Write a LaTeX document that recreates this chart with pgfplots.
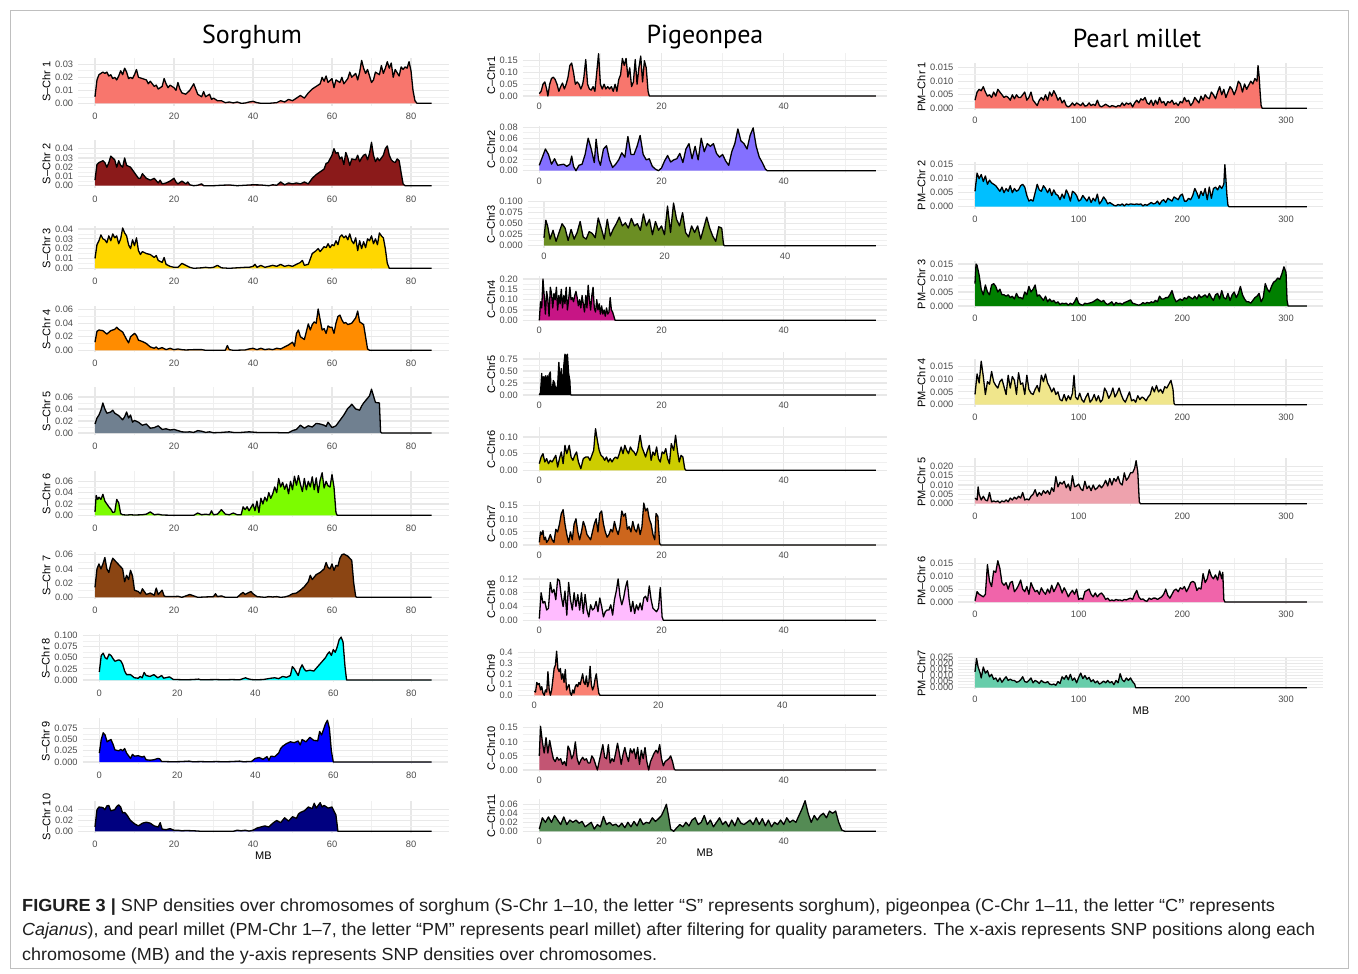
\documentclass[border=0pt]{standalone}
\usepackage{fontspec}
\setmainfont{Liberation Sans}
\newfontfamily\titlefont{PT Sans}
\usepackage{pgfplots}
\usepackage{pgfplotstable}
\usepackage{graphicx}
\pgfplotsset{compat=1.18}

\definecolor{cSa}{HTML}{F8766D}
\definecolor{cSb}{HTML}{8B1A1A}
\definecolor{cSc}{HTML}{FFD700}
\definecolor{cSd}{HTML}{FF8C00}
\definecolor{cSe}{HTML}{708090}
\definecolor{cSf}{HTML}{7CFC00}
\definecolor{cSg}{HTML}{8B4513}
\definecolor{cSh}{HTML}{00FFFF}
\definecolor{cSi}{HTML}{0000FF}
\definecolor{cSj}{HTML}{000080}
\definecolor{cCa}{HTML}{F8766D}
\definecolor{cCb}{HTML}{8470FF}
\definecolor{cCc}{HTML}{6B8E23}
\definecolor{cCd}{HTML}{C71585}
\definecolor{cCe}{HTML}{000000}
\definecolor{cCf}{HTML}{CDCD00}
\definecolor{cCg}{HTML}{CD661D}
\definecolor{cCh}{HTML}{FFBBFF}
\definecolor{cCi}{HTML}{FA8072}
\definecolor{cCj}{HTML}{C35573}
\definecolor{cCk}{HTML}{548B54}
\definecolor{cPa}{HTML}{F8766D}
\definecolor{cPb}{HTML}{00BFFF}
\definecolor{cPc}{HTML}{008000}
\definecolor{cPd}{HTML}{F0E68C}
\definecolor{cPe}{HTML}{EEA2AD}
\definecolor{cPf}{HTML}{F064AA}
\definecolor{cPg}{HTML}{66CDAA}

% ---------------- Sorghum ----------------
\pgfplotstableread[row sep=\\]{x y\\0 0.005\\0.5 0.018\\1 0.022\\2 0.024\\2.5 0.023\\3 0.024\\3.5 0.021\\4 0.022\\4.5 0.019\\5 0.020\\5.5 0.018\\6 0.021\\6.5 0.025\\7 0.022\\7.5 0.027\\8 0.024\\8.5 0.019\\9 0.020\\9.5 0.019\\10 0.022\\10.5 0.026\\11 0.020\\12 0.019\\13 0.018\\13.5 0.015\\14 0.017\\15 0.013\\15.5 0.014\\16 0.011\\17 0.013\\17.5 0.019\\18 0.015\\18.5 0.012\\19 0.014\\20 0.012\\20.5 0.010\\21 0.016\\21.5 0.011\\22 0.008\\23 0.007\\24 0.010\\25 0.015\\25.5 0.011\\26 0.007\\27 0.005\\27.5 0.009\\28 0.005\\29 0.007\\29.5 0.003\\30 0.004\\31 0.002\\32 0.002\\33 0.0005\\34 0.001\\35 0.0003\\36 0.001\\37 0\\38 0.0002\\39 0.001\\40 0.0015\\41 0.0005\\42 0\\44 0\\46 0.0005\\47 0.002\\48 0.001\\49 0.003\\50 0.002\\51 0.004\\52 0.006\\53 0.004\\54 0.008\\55 0.011\\56 0.013\\57 0.015\\57.5 0.020\\58 0.017\\58.5 0.021\\59 0.016\\60 0.019\\60.5 0.012\\61 0.018\\62 0.016\\62.5 0.020\\63 0.015\\64 0.019\\64.5 0.024\\65 0.020\\66 0.023\\66.5 0.018\\67 0.024\\67.5 0.033\\68 0.027\\68.5 0.023\\69 0.026\\70 0.016\\70.5 0.018\\71 0.024\\71.5 0.023\\72 0.022\\72.5 0.029\\73 0.023\\73.5 0.027\\74 0.032\\74.5 0.027\\75 0.031\\75.5 0.020\\76 0.026\\77 0.021\\77.5 0.028\\78 0.026\\78.5 0.028\\79 0.027\\79.5 0.032\\80 0.025\\80.5 0.010\\81 0.002\\81.5 0\\85.2 0\\}\Sa
\pgfplotstableread[row sep=\\]{x y\\0 0.006\\0.5 0.023\\1 0.025\\1.5 0.026\\2 0.027\\2.5 0.025\\3 0.020\\3.5 0.025\\4 0.032\\4.5 0.030\\5 0.028\\5.5 0.020\\6 0.027\\6.5 0.022\\7 0.020\\7.5 0.030\\8 0.022\\9 0.020\\10 0.014\\11 0.008\\11.5 0.008\\12 0.013\\13 0.008\\14 0.006\\15 0.008\\16 0.003\\16.5 0.006\\17 0.002\\18 0.003\\19 0.005\\20 0.008\\20.5 0.004\\21 0.002\\22 0.005\\23 0.002\\23.5 0.004\\24 0.001\\25 0\\26 0.0005\\27 0.002\\27.5 0\\30 0\\32 0.0005\\34 0.0008\\36 0\\38 0.0005\\40 0.001\\42 0.0008\\44 0\\45 0.001\\46 0.0005\\47 0.004\\48 0.001\\49 0.003\\50 0.002\\51 0.003\\52 0.002\\53 0.004\\54 0.002\\55 0.008\\56 0.012\\57 0.015\\58 0.018\\58.5 0.024\\59 0.025\\60 0.033\\60.5 0.040\\61 0.035\\61.5 0.036\\62 0.029\\62.5 0.031\\63 0.023\\63.5 0.036\\64 0.030\\64.5 0.022\\65 0.029\\66 0.028\\66.5 0.033\\67 0.026\\67.5 0.030\\68 0.033\\68.5 0.034\\69 0.028\\69.5 0.035\\70 0.047\\70.5 0.033\\71 0.026\\71.5 0.030\\72 0.027\\73 0.033\\73.5 0.040\\74 0.043\\74.5 0.033\\75 0.028\\75.5 0.026\\76 0.025\\76.5 0.029\\77 0.027\\77.5 0.014\\78 0.002\\78.5 0\\85.2 0\\}\Sb
\pgfplotstableread[row sep=\\]{x y\\0 0.010\\0.5 0.024\\1 0.028\\1.5 0.034\\2 0.030\\2.5 0.029\\3 0.026\\3.5 0.033\\4 0.028\\4.5 0.035\\5 0.031\\5.5 0.033\\6 0.025\\6.5 0.030\\7 0.041\\7.5 0.036\\8 0.033\\8.5 0.024\\9 0.020\\9.5 0.029\\10 0.023\\10.5 0.031\\11 0.018\\11.5 0.014\\12 0.017\\13 0.015\\14 0.014\\15 0.011\\15.5 0.013\\16 0.008\\17 0.006\\17.5 0.011\\18 0.004\\19 0.002\\20 0.001\\21 0.001\\22 0.005\\23 0.003\\24 0.001\\25 0\\27 0.0005\\28 0.001\\29 0.0005\\30 0.001\\31 0.003\\32 0.0005\\34 0\\36 0.0005\\38 0.001\\39 0.001\\40 0.002\\40.5 0.004\\41 0.001\\42 0.003\\43 0.001\\44 0.002\\45 0.003\\46 0.002\\47 0.004\\48 0.002\\49 0.003\\50 0.002\\51 0.004\\52 0.006\\52.5 0.008\\53 0.003\\54 0.004\\55 0.015\\56 0.018\\56.5 0.020\\57 0.017\\58 0.022\\58.5 0.021\\59 0.025\\59.5 0.021\\60 0.024\\60.5 0.023\\61 0.028\\61.5 0.024\\62 0.032\\62.5 0.034\\63 0.031\\63.5 0.033\\64 0.029\\64.5 0.035\\65 0.028\\65.5 0.025\\66 0.031\\66.5 0.018\\67 0.028\\67.5 0.020\\68 0.027\\68.5 0.021\\69 0.030\\69.5 0.028\\70 0.033\\70.5 0.025\\71 0.030\\71.5 0.024\\72 0.036\\72.5 0.033\\73 0.031\\73.5 0.020\\74 0.005\\74.5 0\\85.2 0\\}\Sc
\pgfplotstableread[row sep=\\]{x y\\0 0.012\\0.5 0.028\\1 0.030\\2 0.029\\3 0.024\\4 0.029\\5 0.031\\5.5 0.034\\6 0.031\\7 0.027\\8 0.016\\8.5 0.011\\9 0.020\\10 0.025\\10.5 0.022\\11 0.015\\12 0.013\\13 0.010\\14 0.005\\15 0.003\\15.5 0.005\\16 0.002\\17 0.004\\18 0.001\\19 0.003\\20 0.001\\21 0.002\\22 0.001\\23 0.0005\\25 0.001\\27 0.001\\28 0\\33 0\\33.5 0.007\\34 0.001\\35 0\\38 0.0005\\39 0.002\\40 0.003\\41 0.001\\42 0.003\\43 0.001\\44 0.002\\45 0.001\\46 0.003\\47 0.002\\48 0.005\\49 0.008\\50 0.012\\50.5 0.006\\51 0.025\\51.5 0.030\\52 0.020\\53 0.016\\54 0.039\\54.5 0.030\\55 0.038\\55.5 0.042\\56 0.040\\56.5 0.061\\57 0.045\\57.5 0.030\\58 0.032\\58.5 0.025\\59 0.036\\59.5 0.034\\60 0.034\\60.5 0.025\\61 0.040\\61.5 0.050\\62 0.052\\62.5 0.045\\63 0.040\\63.5 0.041\\64 0.038\\65 0.040\\65.5 0.044\\66 0.048\\66.5 0.058\\67 0.042\\68 0.038\\68.5 0.020\\69 0.002\\69.5 0\\85.2 0\\}\Sd
\pgfplotstableread[row sep=\\]{x y\\0 0.015\\0.5 0.025\\1 0.030\\1.5 0.038\\2 0.050\\2.5 0.040\\3 0.033\\4 0.035\\4.5 0.038\\5 0.033\\6 0.029\\7 0.022\\7.5 0.027\\8 0.035\\8.5 0.025\\9 0.030\\9.5 0.018\\10 0.021\\11 0.018\\12 0.013\\13 0.015\\14 0.008\\15 0.009\\16 0.012\\17 0.006\\18 0.007\\19 0.005\\20 0.006\\21 0.004\\22 0.002\\23 0.0015\\24 0.002\\25 0.001\\26 0.004\\27 0.003\\28 0.001\\29 0.002\\30 0.0005\\32 0.001\\34 0.002\\35 0.001\\37 0.001\\39 0.002\\41 0.001\\43 0.0008\\45 0.001\\47 0.0005\\49 0.0005\\50 0.004\\51 0.006\\52 0.013\\53 0.008\\54 0.012\\55 0.010\\56 0.016\\57 0.015\\58 0.013\\58.5 0.011\\59 0.018\\60 0.009\\61 0.012\\62 0.021\\63 0.030\\64 0.041\\64.5 0.044\\65 0.048\\66 0.040\\67 0.038\\67.5 0.045\\68 0.050\\69 0.058\\69.5 0.062\\70 0.073\\70.5 0.062\\71 0.051\\72 0.050\\72.3 0.002\\72.6 0\\85.2 0\\}\Se
\pgfplotstableread[row sep=\\]{x y\\0 0.006\\0.3 0.035\\0.7 0.028\\1 0.032\\1.5 0.028\\2 0.037\\2.5 0.025\\3 0.020\\3.5 0.015\\4 0.011\\4.5 0.005\\5 0.006\\5.5 0.028\\6 0.022\\6.5 0.003\\7 0.001\\8 0.0005\\9 0.001\\10 0.0005\\12 0.001\\13 0.002\\14 0.006\\15 0.001\\16 0.002\\17 0.0005\\20 0\\25 0\\26 0.004\\27 0.001\\28 0.002\\29 0.001\\29.5 0.008\\30 0.001\\31 0.002\\32 0.010\\33 0.002\\34 0.001\\35 0.004\\36 0.001\\37 0.001\\37.5 0.015\\38 0.010\\38.5 0.015\\39 0.008\\40 0.020\\40.5 0.008\\41 0.025\\41.5 0.005\\42 0.030\\42.5 0.020\\43 0.032\\43.5 0.025\\44 0.040\\44.5 0.030\\45 0.038\\45.5 0.050\\46 0.040\\46.5 0.065\\47 0.050\\47.5 0.058\\48 0.046\\48.5 0.055\\49 0.038\\49.5 0.060\\50 0.045\\50.5 0.069\\51 0.053\\51.5 0.070\\52 0.055\\52.5 0.042\\53 0.065\\53.5 0.045\\54 0.060\\54.5 0.050\\55 0.068\\55.5 0.045\\56 0.066\\56.5 0.040\\57 0.062\\57.5 0.075\\58 0.048\\58.5 0.060\\59 0.052\\59.5 0.050\\60 0.072\\60.5 0.050\\61 0.005\\61.3 0\\85.2 0\\}\Sf
\pgfplotstableread[row sep=\\]{x y\\0 0.014\\0.5 0.040\\1 0.047\\1.5 0.040\\2 0.047\\2.5 0.056\\3 0.040\\3.5 0.035\\4 0.047\\4.5 0.055\\5 0.052\\6 0.046\\7 0.040\\7.5 0.022\\8 0.031\\8.5 0.025\\9 0.038\\9.5 0.030\\10 0.010\\11 0.008\\11.5 0.005\\12 0.012\\13 0.004\\14 0.006\\15 0.003\\15.5 0.013\\16 0.004\\17 0.010\\17.5 0.002\\18 0.001\\20 0.001\\21 0.0015\\22 0\\23 0.002\\24 0.004\\25 0.002\\26 0\\30 0.001\\30.5 0.005\\31 0.001\\32 0.002\\33 0\\36 0\\37 0.005\\37.5 0.007\\38 0.004\\39 0.007\\39.5 0.008\\40 0.005\\41 0.001\\43 0\\44 0.001\\45 0.0005\\46 0.001\\47 0\\48 0.0005\\49 0.002\\50 0.005\\51 0.006\\52 0.010\\53 0.015\\54 0.022\\54.5 0.031\\55 0.025\\56 0.032\\57 0.035\\58 0.040\\58.5 0.049\\59 0.042\\59.5 0.040\\60 0.047\\60.5 0.038\\61 0.045\\61.5 0.044\\62 0.055\\62.5 0.060\\63 0.061\\64 0.058\\65 0.052\\65.5 0.020\\66 0.001\\66.3 0\\85.2 0\\}\Sg
\pgfplotstableread[row sep=\\]{x y\\0 0.018\\0.5 0.055\\1 0.060\\1.5 0.050\\2 0.047\\2.5 0.058\\3 0.055\\3.5 0.048\\4 0.042\\5 0.045\\5.5 0.043\\6 0.035\\6.5 0.020\\7 0.012\\8 0.012\\9 0.005\\10 0.004\\10.5 0.008\\11 0.005\\11.5 0.017\\12 0.010\\13 0.008\\14 0.012\\15 0.005\\16 0.010\\16.5 0.004\\17 0.005\\18 0.007\\19 0.001\\20 0.001\\22 0.0005\\24 0.001\\25.5 0.002\\26 0.0005\\30 0.001\\32 0.0005\\34 0.001\\36 0.0005\\37.5 0.005\\38 0.003\\39 0.001\\40 0.0005\\42 0.001\\44 0.004\\45 0.005\\46 0.003\\47 0.008\\48 0.006\\49 0.010\\49.5 0.030\\50 0.025\\51 0.010\\51.5 0.025\\52 0.034\\52.5 0.025\\53 0.020\\54 0.022\\55 0.020\\56 0.030\\57 0.040\\57.5 0.045\\58 0.050\\58.5 0.058\\59 0.063\\59.5 0.055\\60 0.068\\60.5 0.062\\61 0.074\\61.5 0.090\\62 0.096\\62.5 0.085\\63 0.030\\63.4 0\\85.2 0\\}\Sh
\pgfplotstableread[row sep=\\]{x y\\0 0.020\\0.5 0.050\\1 0.065\\1.5 0.060\\2 0.045\\2.5 0.048\\3 0.050\\3.5 0.040\\4 0.027\\5 0.025\\5.5 0.028\\6 0.025\\6.5 0.030\\7 0.020\\8 0.008\\8.5 0.017\\9 0.013\\10 0.014\\11 0.011\\11.5 0.013\\12 0.005\\13 0.004\\14 0.005\\15 0.008\\15.5 0.007\\16 0.001\\17 0.001\\19 0.0005\\21 0.001\\23 0.002\\24 0.0005\\26 0.001\\28 0.0005\\30 0.001\\32 0.0005\\34 0.001\\36 0.002\\37 0.0005\\38 0.001\\39 0.001\\40 0.008\\41 0.010\\42 0.006\\43 0.012\\43.5 0.004\\44 0.013\\45 0.012\\46 0.020\\46.5 0.030\\47 0.035\\48 0.041\\49 0.045\\50 0.043\\51 0.047\\51.5 0.038\\52 0.050\\53 0.045\\54 0.055\\55 0.048\\56 0.047\\56.5 0.068\\57 0.060\\58 0.085\\58.5 0.093\\59 0.075\\59.5 0.025\\60 0\\85.2 0\\}\Si
\pgfplotstableread[row sep=\\]{x y\\0 0.008\\0.5 0.040\\1 0.045\\2 0.044\\2.5 0.040\\3 0.047\\3.5 0.048\\4 0.038\\5 0.040\\5.5 0.046\\6 0.049\\6.5 0.045\\7 0.034\\7.5 0.035\\8 0.031\\9 0.020\\10 0.014\\11 0.010\\12 0.015\\13 0.017\\14 0.015\\15 0.010\\16 0.008\\16.5 0.016\\17 0.004\\18 0.003\\19 0.005\\20 0.002\\21 0.002\\22 0.001\\23 0.0015\\25 0.001\\27 0\\35 0\\36 0.002\\37 0.001\\38 0.002\\39 0.0005\\40 0.002\\41 0.006\\42 0.008\\43 0.010\\44 0.008\\45 0.015\\46 0.020\\47 0.016\\48 0.025\\49 0.019\\50 0.027\\51 0.024\\51.5 0.032\\52 0.035\\53 0.038\\54 0.045\\55 0.042\\55.5 0.052\\56 0.043\\57 0.053\\57.5 0.045\\58 0.048\\59 0.043\\60 0.045\\61 0.030\\61.5 0\\85.2 0\\}\Sj

% ---------------- Pigeonpea ----------------
\pgfplotstableread[row sep=\\]{x y\\0 0.01\\0.3 0.02\\0.6 0.05\\0.9 0.06\\1.2 0.03\\1.4 0.0\\1.7 0.05\\2 0.075\\2.3 0.08\\2.6 0.07\\2.9 0.05\\3.2 0.02\\3.5 0.04\\3.8 0.055\\4.1 0.03\\4.4 0.05\\4.7 0.08\\5 0.13\\5.3 0.14\\5.6 0.10\\5.9 0.05\\6.2 0.06\\6.5 0.05\\6.8 0.03\\7.1 0.05\\7.3 0.08\\7.6 0.155\\7.9 0.05\\8.2 0.03\\8.5 0.025\\8.8 0.04\\9.1 0.02\\9.4 0.10\\9.7 0.18\\10 0.05\\10.3 0.03\\10.6 0.05\\10.9 0.03\\11.2 0.04\\11.5 0.03\\11.8 0.04\\12.1 0.02\\12.4 0.05\\12.7 0.02\\13 0.07\\13.3 0.09\\13.6 0.16\\13.9 0.13\\14.2 0.16\\14.5 0.08\\14.8 0.12\\15.1 0.04\\15.4 0.06\\15.7 0.155\\16 0.05\\16.3 0.12\\16.6 0.17\\16.9 0.06\\17.2 0.15\\17.5 0.12\\17.8 0.02\\18 0\\55.1 0\\}\Ca
\pgfplotstableread[row sep=\\]{x y\\0 0.01\\0.5 0.025\\1 0.04\\1.5 0.03\\2 0.012\\2.5 0.022\\3 0.010\\4 0.012\\4.5 0.008\\5 0.012\\5.3 0.027\\5.6 0.008\\6 0.0\\6.5 0.010\\7 0.012\\7.5 0.030\\8 0.060\\8.5 0.040\\9 0.015\\9.3 0.058\\9.7 0.020\\10 0.010\\10.5 0.040\\11 0.046\\11.5 0.020\\12 0.006\\12.5 0.012\\13 0.020\\13.5 0.033\\14 0.025\\14.5 0.063\\15 0.030\\15.5 0.030\\16 0.045\\16.5 0.065\\17 0.030\\17.5 0.020\\18 0.022\\18.5 0.008\\19 0.003\\19.5 0.0\\20 0.005\\20.5 0.018\\21 0.028\\21.5 0.016\\22 0.020\\22.5 0.022\\23 0.032\\23.5 0.015\\24 0.040\\24.5 0.050\\25 0.022\\25.5 0.045\\26 0.020\\26.5 0.060\\27 0.035\\27.5 0.050\\28 0.045\\28.5 0.050\\29 0.032\\29.5 0.025\\30 0.030\\30.5 0.018\\31 0.010\\31.5 0.035\\32 0.050\\32.5 0.077\\33 0.055\\33.5 0.050\\34 0.040\\34.5 0.065\\35 0.079\\35.5 0.045\\36 0.025\\36.5 0.015\\37 0.003\\37.3 0\\55.1 0\\}\Cb
\pgfplotstableread[row sep=\\]{x y\\0 0.018\\0.3 0.058\\0.6 0.045\\1 0.015\\1.5 0.035\\2 0.010\\2.5 0.030\\3 0.050\\3.5 0.040\\4 0.012\\4.5 0.037\\5 0.015\\5.5 0.030\\6 0.055\\6.5 0.020\\7 0.015\\7.5 0.032\\8 0.028\\8.5 0.018\\9 0.063\\9.5 0.040\\10 0.015\\10.5 0.060\\11 0.022\\11.5 0.038\\12 0.050\\12.5 0.065\\13 0.045\\13.5 0.052\\14 0.040\\14.5 0.062\\15 0.045\\15.5 0.050\\16 0.035\\16.5 0.072\\17 0.045\\17.5 0.060\\18 0.025\\18.5 0.055\\19 0.035\\19.5 0.045\\20 0.025\\20.5 0.090\\21 0.030\\21.5 0.097\\22 0.060\\22.5 0.045\\23 0.075\\23.5 0.030\\24 0.020\\24.5 0.045\\25 0.030\\25.5 0.045\\26 0.015\\26.5 0.040\\27 0.065\\27.5 0.040\\28 0.022\\28.5 0.010\\29 0.043\\29.5 0.040\\29.8 0.002\\30 0\\55.1 0\\}\Cc
\pgfplotstableread[row sep=\\]{x y\\0 0.0\\0.2 0.09\\0.4 0.06\\0.6 0.20\\0.8 0.12\\1 0.03\\1.2 0.14\\1.4 0.10\\1.6 0.02\\1.8 0.16\\2 0.13\\2.2 0.06\\2.4 0.13\\2.6 0.10\\2.8 0.16\\3 0.05\\3.2 0.12\\3.4 0.08\\3.6 0.15\\3.8 0.06\\4 0.12\\4.2 0.08\\4.4 0.16\\4.6 0.05\\4.8 0.10\\5 0.16\\5.2 0.10\\5.4 0.11\\5.6 0.09\\5.8 0.12\\6 0.14\\6.2 0.11\\6.4 0.07\\6.6 0.10\\6.8 0.06\\7 0.12\\7.2 0.08\\7.4 0.04\\7.6 0.12\\7.8 0.06\\8 0.17\\8.2 0.10\\8.4 0.05\\8.6 0.12\\8.8 0.16\\9 0.06\\9.2 0.04\\9.4 0.10\\9.6 0.05\\9.8 0.08\\10 0.03\\10.2 0.07\\10.4 0.03\\10.6 0.05\\10.8 0.02\\11 0.06\\11.2 0.03\\11.4 0.04\\11.6 0.11\\11.8 0.05\\12 0.04\\12.2 0.02\\12.4 0\\55.1 0\\}\Cd
\pgfplotstableread[row sep=\\]{x y\\0 0.0\\0.2 0.05\\0.4 0.45\\0.5 0.10\\0.7 0.38\\0.9 0.15\\1.0 0.40\\1.2 0.20\\1.3 0.40\\1.5 0.25\\1.6 0.42\\1.8 0.48\\1.9 0.20\\2.1 0.10\\2.3 0.30\\2.5 0.25\\2.7 0.10\\3.0 0.20\\3.2 0.68\\3.4 0.20\\3.6 0.55\\3.8 0.05\\4.0 0.60\\4.2 0.85\\4.4 0.80\\4.6 0.85\\4.8 0.45\\5.0 0.30\\5.1 0.02\\5.2 0\\55.1 0\\}\Ce
\pgfplotstableread[row sep=\\]{x y\\0 0.02\\0.3 0.04\\0.6 0.05\\0.9 0.025\\1.2 0.035\\1.5 0.020\\1.8 0.030\\2.1 0.025\\2.4 0.035\\2.7 0.045\\3.0 0.010\\3.3 0.035\\3.6 0.055\\3.9 0.020\\4.2 0.075\\4.5 0.050\\4.9 0.075\\5.2 0.040\\5.5 0.030\\5.8 0.045\\6.1 0.055\\6.4 0.025\\6.8 0.005\\7.2 0.035\\7.6 0.040\\8 0.040\\8.3 0.030\\8.6 0.045\\8.9 0.060\\9.2 0.125\\9.5 0.090\\9.8 0.060\\10.1 0.045\\10.4 0.040\\10.7 0.030\\11 0.040\\11.3 0.025\\11.6 0.035\\11.9 0.025\\12.2 0.035\\12.5 0.040\\12.8 0.035\\13.1 0.050\\13.4 0.070\\13.7 0.050\\14 0.075\\14.3 0.060\\14.6 0.050\\14.9 0.070\\15.2 0.060\\15.5 0.055\\15.8 0.045\\16.1 0.060\\16.5 0.105\\16.8 0.070\\17.1 0.055\\17.4 0.040\\17.7 0.060\\18 0.075\\18.3 0.030\\18.6 0.055\\18.9 0.045\\19.2 0.070\\19.5 0.035\\19.8 0.025\\20.1 0.055\\20.4 0.050\\20.7 0.065\\21 0.035\\21.3 0.020\\21.6 0.080\\22 0.060\\22.3 0.105\\22.6 0.060\\22.9 0.025\\23.2 0.045\\23.5 0.040\\23.8 0.005\\24 0\\55.1 0\\}\Cf
\pgfplotstableread[row sep=\\]{x y\\0 0.01\\0.2 0.05\\0.4 0.04\\0.6 0.055\\0.8 0.02\\1 0.03\\1.2 0.01\\1.5 0.02\\1.8 0.04\\2.1 0.02\\2.4 0.01\\2.7 0.06\\3 0.05\\3.3 0.08\\3.6 0.12\\3.9 0.135\\4.2 0.08\\4.5 0.04\\4.8 0.01\\5.1 0.05\\5.4 0.02\\5.7 0.08\\6 0.10\\6.3 0.05\\6.6 0.02\\6.9 0.05\\7.2 0.09\\7.5 0.07\\7.8 0.04\\8.1 0.03\\8.4 0.02\\8.7 0.05\\9 0.08\\9.3 0.10\\9.6 0.05\\9.9 0.12\\10.2 0.13\\10.5 0.08\\10.8 0.05\\11.1 0.03\\11.4 0.04\\11.7 0.06\\12 0.05\\12.3 0.09\\12.6 0.06\\12.9 0.04\\13.2 0.07\\13.5 0.13\\13.8 0.11\\14.1 0.12\\14.4 0.06\\14.7 0.07\\15 0.05\\15.3 0.09\\15.6 0.06\\15.9 0.05\\16.2 0.08\\16.5 0.04\\16.8 0.07\\17.1 0.16\\17.4 0.13\\17.7 0.14\\18 0.10\\18.3 0.08\\18.6 0.04\\18.9 0.02\\19.1 0.12\\19.4 0.11\\19.7 0.005\\19.9 0\\55.1 0\\}\Cg
\pgfplotstableread[row sep=\\]{x y\\0 0.005\\0.3 0.08\\0.6 0.05\\0.9 0.055\\1.2 0.03\\1.5 0.035\\1.8 0.11\\2.1 0.08\\2.4 0.09\\2.7 0.06\\3 0.12\\3.3 0.115\\3.6 0.07\\3.9 0.04\\4.2 0.085\\4.5 0.015\\4.8 0.11\\5.1 0.06\\5.4 0.03\\5.7 0.08\\6 0.04\\6.3 0.075\\6.6 0.03\\6.9 0.08\\7.2 0.02\\7.5 0.075\\7.8 0.03\\8.1 0.01\\8.4 0.045\\8.7 0.03\\9 0.035\\9.3 0.055\\9.6 0.025\\9.9 0.065\\10.2 0.04\\10.5 0.01\\10.8 0.025\\11.1 0.03\\11.4 0.03\\11.7 0.045\\12 0.015\\12.3 0.06\\12.6 0.085\\12.9 0.12\\13.2 0.07\\13.5 0.045\\13.8 0.065\\14.1 0.095\\14.4 0.115\\14.7 0.06\\15 0.025\\15.3 0.055\\15.6 0.02\\15.9 0.045\\16.2 0.03\\16.5 0.05\\16.8 0.03\\17.1 0.065\\17.4 0.07\\17.7 0.055\\18 0.10\\18.3 0.06\\18.6 0.035\\18.9 0.03\\19.2 0.025\\19.5 0.035\\19.8 0.095\\20.1 0.01\\20.3 0\\55.1 0\\}\Ch
\pgfplotstableread[row sep=\\]{x y\\0 0.04\\0.2 0.03\\0.4 0.12\\0.6 0.10\\0.8 0.11\\1 0.05\\1.2 0.08\\1.4 0.02\\1.6 0.0\\1.8 0.05\\2 0.03\\2.2 0.22\\2.4 0.05\\2.6 0.0\\2.8 0.05\\3 0.15\\3.2 0.25\\3.4 0.28\\3.6 0.41\\3.8 0.25\\4 0.22\\4.2 0.25\\4.4 0.15\\4.6 0.20\\4.8 0.12\\5 0.24\\5.2 0.05\\5.4 0.08\\5.6 0.10\\5.8 0.02\\6 0.0\\6.2 0.05\\6.4 0.02\\6.6 0.08\\6.8 0.10\\7 0.08\\7.2 0.12\\7.4 0.10\\7.6 0.15\\7.8 0.20\\8 0.12\\8.2 0.10\\8.4 0.18\\8.6 0.08\\8.8 0.12\\9 0.27\\9.2 0.10\\9.4 0.05\\9.6 0.08\\9.8 0.15\\10 0.20\\10.2 0.10\\10.4 0.02\\10.6 0\\55.1 0\\}\Ci
\pgfplotstableread[row sep=\\]{x y\\0 0.05\\0.2 0.155\\0.5 0.10\\0.8 0.06\\1.1 0.115\\1.4 0.06\\1.7 0.105\\2 0.07\\2.3 0.04\\2.6 0.03\\2.9 0.045\\3.2 0.035\\3.5 0.04\\3.8 0.02\\4.1 0.03\\4.4 0.015\\4.7 0.085\\5 0.07\\5.3 0.04\\5.6 0.055\\5.9 0.10\\6.2 0.04\\6.5 0.02\\6.8 0.035\\7.1 0.045\\7.4 0.035\\7.7 0.04\\8 0.025\\8.3 0.025\\8.6 0.05\\8.9 0.04\\9.2 0.02\\9.5 0.0\\9.8 0.03\\10.1 0.06\\10.4 0.09\\10.7 0.045\\11 0.04\\11.3 0.09\\11.6 0.025\\11.9 0.04\\12.2 0.03\\12.5 0.06\\12.8 0.095\\13.1 0.06\\13.4 0.02\\13.7 0.055\\14 0.08\\14.3 0.05\\14.6 0.03\\14.9 0.075\\15.2 0.06\\15.5 0.075\\15.8 0.04\\16.1 0.08\\16.4 0.02\\16.7 0.07\\17 0.04\\17.3 0.08\\17.6 0.03\\17.9 0.0\\18.2 0.03\\18.5 0.045\\18.8 0.06\\19.1 0.07\\19.4 0.06\\19.7 0.09\\20 0.04\\20.3 0.015\\20.6 0.03\\20.9 0.035\\21.2 0.04\\21.5 0.05\\21.8 0.03\\22.1 0.002\\22.3 0\\55.1 0\\}\Cj
\pgfplotstableread[row sep=\\]{x y\\0 0.005\\0.5 0.03\\1 0.02\\1.5 0.032\\2 0.02\\2.5 0.035\\3 0.025\\3.5 0.015\\4 0.032\\4.5 0.015\\5 0.025\\5.5 0.02\\6 0.025\\6.5 0.018\\7 0.022\\7.5 0.01\\8 0.015\\8.5 0.02\\9 0.005\\9.5 0.015\\10 0.01\\10.5 0.033\\11 0.015\\11.5 0.02\\12 0.013\\12.5 0.016\\13 0.01\\13.5 0.018\\14 0.008\\14.5 0.02\\15 0.01\\15.5 0.022\\16 0.012\\16.5 0.028\\17 0.015\\17.5 0.02\\18 0.018\\18.5 0.03\\19 0.022\\19.5 0.028\\20 0.035\\20.5 0.05\\20.8 0.06\\21.2 0.03\\21.5 0.005\\22 0.0\\22.5 0.008\\23 0.015\\23.5 0.01\\24 0.02\\24.5 0.012\\25 0.025\\25.5 0.03\\26 0.015\\26.5 0.02\\27 0.035\\27.5 0.015\\28 0.025\\28.5 0.01\\29 0.02\\29.5 0.03\\30 0.015\\30.5 0.022\\31 0.01\\31.5 0.025\\32 0.012\\32.5 0.03\\33 0.018\\33.5 0.015\\34 0.02\\34.5 0.025\\35 0.015\\35.5 0.03\\36 0.015\\36.5 0.028\\37 0.012\\37.5 0.025\\38 0.01\\38.5 0.02\\39 0.015\\39.5 0.025\\40 0.015\\40.5 0.03\\41 0.02\\41.5 0.025\\42 0.02\\42.5 0.035\\43 0.05\\43.5 0.068\\44 0.04\\44.5 0.02\\45 0.035\\45.5 0.025\\46 0.035\\46.5 0.04\\47 0.03\\47.5 0.045\\48 0.04\\48.5 0.045\\49 0.02\\49.5 0.003\\50 0\\55.1 0\\}\Ck

% ---------------- Pearl millet ----------------
\pgfplotstableread[row sep=\\]{x y\\0 0.003\\2 0.006\\4 0.007\\6 0.0065\\8 0.008\\10 0.006\\12 0.0045\\14 0.005\\16 0.004\\18 0.006\\20 0.0045\\22 0.007\\24 0.006\\26 0.005\\28 0.004\\30 0.0045\\32 0.004\\34 0.003\\36 0.005\\38 0.0035\\40 0.005\\42 0.004\\44 0.004\\46 0.005\\48 0.006\\50 0.003\\52 0.004\\54 0.006\\56 0.003\\58 0.002\\60 0.001\\62 0.003\\64 0.004\\66 0.003\\68 0.005\\70 0.003\\72 0.006\\74 0.0045\\76 0.0065\\78 0.005\\80 0.003\\82 0.004\\84 0.002\\86 0.003\\88 0.001\\90 0.0005\\92 0.001\\94 0.002\\96 0.001\\98 0.002\\100 0.0015\\102 0.001\\104 0.002\\106 0.0008\\108 0.001\\110 0.002\\112 0.001\\114 0.0015\\116 0.001\\118 0.003\\120 0.001\\122 0.0005\\124 0.001\\126 0.0015\\128 0.001\\130 0.0005\\132 0.001\\134 0.0008\\136 0.0005\\138 0.001\\140 0.0008\\142 0.002\\144 0.001\\146 0.002\\148 0.0015\\150 0.002\\152 0.0005\\154 0.002\\156 0.003\\158 0.002\\160 0.0035\\162 0.003\\164 0.004\\166 0.002\\168 0.0015\\170 0.003\\172 0.001\\174 0.003\\176 0.0015\\178 0.004\\180 0.002\\182 0.0025\\184 0.001\\186 0.0025\\188 0.002\\190 0.003\\192 0.0015\\194 0.002\\196 0.001\\198 0.0025\\200 0.002\\202 0.004\\204 0.0025\\206 0.003\\208 0.001\\210 0.002\\212 0.004\\214 0.003\\216 0.002\\218 0.0045\\220 0.003\\222 0.005\\224 0.004\\226 0.0035\\228 0.006\\230 0.005\\232 0.0035\\234 0.006\\236 0.008\\238 0.005\\240 0.007\\242 0.004\\244 0.006\\246 0.008\\248 0.007\\250 0.005\\252 0.007\\254 0.010\\256 0.009\\258 0.006\\260 0.009\\262 0.007\\264 0.0085\\266 0.010\\268 0.009\\270 0.011\\272 0.010\\273 0.0158\\274 0.012\\275 0.006\\276 0.001\\277 0\\320 0\\}\Pa
\pgfplotstableread[row sep=\\]{x y\\0 0.0055\\2 0.012\\4 0.010\\6 0.0115\\8 0.009\\10 0.011\\12 0.008\\14 0.0095\\16 0.0085\\18 0.008\\20 0.0075\\22 0.0065\\24 0.0055\\26 0.007\\28 0.005\\30 0.0065\\32 0.0055\\34 0.0075\\36 0.005\\38 0.0065\\40 0.0055\\42 0.006\\44 0.0075\\46 0.008\\48 0.007\\50 0.004\\52 0.002\\54 0.0025\\56 0.002\\58 0.005\\60 0.008\\62 0.006\\64 0.0055\\66 0.0075\\68 0.0065\\70 0.005\\72 0.0065\\74 0.004\\76 0.006\\78 0.0045\\80 0.004\\82 0.0025\\84 0.0045\\86 0.003\\88 0.006\\90 0.0045\\92 0.002\\94 0.0055\\96 0.005\\98 0.004\\100 0.002\\102 0.0025\\104 0.004\\106 0.003\\108 0.002\\110 0.0035\\112 0.0015\\114 0.003\\116 0.002\\118 0.0045\\120 0.001\\122 0.002\\124 0.0035\\126 0.0025\\128 0.001\\130 0.0015\\132 0.001\\134 0.0005\\136 0.0003\\138 0.0008\\140 0.0005\\142 0.001\\144 0.0003\\146 0.001\\148 0.0007\\150 0.001\\152 0.0009\\154 0.0008\\156 0.001\\158 0.0008\\160 0.001\\162 0.0003\\164 0.0008\\166 0.0005\\168 0.001\\170 0.0015\\172 0.001\\174 0.0012\\176 0.002\\178 0.0008\\180 0.002\\182 0.0025\\184 0.0015\\186 0.003\\188 0.0025\\190 0.002\\192 0.0035\\194 0.003\\196 0.0025\\198 0.004\\200 0.0045\\202 0.002\\204 0.002\\206 0.003\\208 0.0025\\210 0.004\\212 0.0065\\214 0.005\\216 0.003\\218 0.0055\\220 0.004\\222 0.0065\\224 0.0025\\226 0.007\\228 0.003\\230 0.0065\\232 0.007\\234 0.006\\236 0.0075\\238 0.0065\\240 0.008\\241 0.015\\242 0.010\\243 0.004\\244 0.0005\\245 0\\320 0\\}\Pb
\pgfplotstableread[row sep=\\]{x y\\0 0.008\\1 0.015\\2 0.0145\\4 0.011\\6 0.006\\8 0.004\\10 0.0075\\12 0.005\\14 0.004\\16 0.0075\\18 0.008\\20 0.007\\22 0.005\\24 0.006\\26 0.004\\28 0.004\\30 0.0035\\32 0.004\\34 0.003\\36 0.0035\\38 0.0025\\40 0.0045\\42 0.003\\44 0.003\\46 0.0025\\48 0.005\\50 0.004\\52 0.007\\54 0.005\\56 0.006\\58 0.0075\\60 0.0035\\62 0.004\\64 0.003\\66 0.002\\68 0.0035\\70 0.0015\\72 0.0025\\74 0.0015\\76 0.002\\78 0.001\\80 0.0015\\82 0.0005\\84 0.001\\86 0.0008\\88 0.001\\90 0.0003\\92 0.001\\94 0.0005\\96 0.0015\\98 0.003\\100 0.001\\102 0.0005\\104 0.0003\\106 0.001\\108 0.0008\\110 0.001\\112 0.0012\\114 0.0015\\116 0.002\\118 0.0025\\120 0.002\\122 0.0015\\124 0.002\\126 0.001\\128 0.0005\\130 0.001\\132 0.0015\\134 0.0003\\136 0.0013\\138 0.0008\\140 0.001\\142 0.0006\\144 0.0012\\146 0.0015\\148 0.0018\\150 0.0022\\152 0.001\\154 0.0008\\156 0.0005\\158 0.0003\\160 0.0006\\162 0.0012\\164 0.0008\\166 0.0013\\168 0.001\\170 0.0015\\172 0.0012\\174 0.002\\176 0.0015\\178 0.0035\\180 0.0025\\182 0.0025\\184 0.003\\186 0.003\\188 0.004\\190 0.0055\\192 0.003\\194 0.0015\\196 0.002\\198 0.0025\\200 0.002\\202 0.003\\204 0.0025\\206 0.0035\\208 0.003\\210 0.0025\\212 0.0035\\214 0.0025\\216 0.004\\218 0.003\\220 0.0035\\222 0.004\\224 0.003\\226 0.0045\\228 0.003\\230 0.002\\232 0.004\\234 0.0045\\236 0.0025\\238 0.0055\\240 0.003\\242 0.0025\\244 0.0045\\246 0.002\\248 0.004\\250 0.005\\252 0.003\\254 0.0045\\256 0.007\\258 0.004\\260 0.0025\\262 0.0015\\264 0.0015\\266 0.001\\268 0.002\\270 0.003\\272 0.0035\\274 0.0045\\276 0.0015\\278 0.003\\280 0.008\\282 0.006\\284 0.005\\286 0.007\\288 0.0085\\290 0.009\\292 0.010\\294 0.0095\\296 0.0115\\298 0.014\\300 0.012\\301 0.002\\302 0\\320 0\\}\Pc
\pgfplotstableread[row sep=\\]{x y\\0 0.004\\2 0.012\\4 0.0085\\6 0.017\\8 0.011\\10 0.004\\12 0.009\\14 0.008\\16 0.013\\18 0.009\\20 0.0075\\22 0.0065\\24 0.009\\26 0.010\\28 0.007\\30 0.004\\32 0.0115\\34 0.0065\\36 0.011\\38 0.0095\\40 0.004\\42 0.0125\\44 0.008\\46 0.0085\\48 0.004\\50 0.0115\\52 0.006\\54 0.0045\\56 0.004\\58 0.006\\60 0.0075\\62 0.005\\64 0.0115\\66 0.009\\68 0.012\\70 0.0085\\72 0.007\\74 0.005\\76 0.0065\\78 0.004\\80 0.005\\82 0.002\\84 0.0015\\86 0.004\\88 0.0015\\90 0.0035\\92 0.002\\94 0.0045\\95.5 0.0115\\97 0.003\\99 0.002\\101 0.0045\\103 0.002\\105 0.001\\107 0.003\\109 0.0045\\111 0.001\\113 0.002\\115 0.004\\117 0.0015\\119 0.0035\\121 0.001\\123 0.002\\125 0.0065\\127 0.005\\129 0.0025\\131 0.004\\133 0.0065\\135 0.003\\137 0.0045\\139 0.0065\\141 0.004\\143 0.002\\145 0.001\\147 0.003\\149 0.005\\151 0.0015\\153 0.002\\155 0.001\\157 0.0035\\159 0.002\\161 0.003\\163 0.0025\\165 0.0015\\167 0.003\\169 0.004\\171 0.007\\173 0.005\\175 0.0075\\177 0.005\\179 0.006\\181 0.0045\\183 0.007\\185 0.0065\\187 0.008\\189 0.0095\\191 0.006\\192 0.0005\\193 0\\320 0\\}\Pd
\pgfplotstableread[row sep=\\]{x y\\0 0.003\\2 0.002\\3 0.009\\4 0.005\\6 0.002\\8 0.004\\10 0.002\\12 0.0015\\14 0.006\\16 0.001\\18 0.0015\\20 0.001\\22 0.0015\\24 0.0005\\26 0.0015\\28 0.001\\30 0.002\\32 0.001\\34 0.003\\36 0.002\\38 0.0035\\40 0.0025\\42 0.004\\44 0.003\\46 0.006\\48 0.002\\50 0.0025\\52 0.002\\54 0.004\\56 0.005\\58 0.0075\\60 0.004\\62 0.006\\64 0.0045\\66 0.007\\68 0.0055\\70 0.007\\72 0.005\\74 0.0085\\76 0.0065\\78 0.0145\\80 0.009\\82 0.0115\\84 0.0105\\86 0.012\\88 0.0085\\90 0.0105\\92 0.007\\94 0.015\\96 0.009\\98 0.0095\\100 0.0105\\102 0.008\\104 0.007\\106 0.012\\108 0.008\\110 0.0095\\112 0.007\\114 0.010\\116 0.0075\\118 0.0085\\120 0.010\\122 0.0085\\124 0.010\\126 0.0125\\128 0.0095\\130 0.0135\\132 0.010\\134 0.0135\\136 0.012\\138 0.0145\\140 0.011\\142 0.010\\144 0.0165\\146 0.0125\\148 0.014\\150 0.0165\\152 0.0165\\154 0.019\\155.4 0.023\\157 0.017\\158.5 0.001\\159.5 0\\320 0\\}\Pe
\pgfplotstableread[row sep=\\]{x y\\0 0.0005\\2 0.004\\4 0.003\\6 0.0025\\8 0.002\\10 0.003\\12 0.0145\\14 0.008\\16 0.006\\18 0.012\\20 0.0115\\22 0.016\\24 0.013\\26 0.0075\\28 0.0065\\30 0.0075\\32 0.005\\34 0.0075\\36 0.008\\38 0.004\\40 0.005\\42 0.0065\\44 0.0085\\46 0.005\\48 0.004\\50 0.006\\52 0.003\\54 0.0075\\56 0.0055\\58 0.004\\60 0.0045\\62 0.003\\64 0.0055\\66 0.004\\68 0.003\\70 0.005\\72 0.0035\\74 0.0065\\76 0.004\\78 0.0055\\80 0.0075\\82 0.006\\84 0.0035\\86 0.0055\\88 0.004\\90 0.002\\92 0.0035\\94 0.0045\\96 0.003\\98 0.005\\100 0.001\\102 0.0015\\104 0.001\\106 0.004\\108 0.0045\\110 0.005\\112 0.003\\114 0.002\\116 0.0035\\118 0.002\\120 0.003\\122 0.0035\\124 0.0025\\126 0.001\\128 0.0015\\130 0.0005\\132 0.0008\\134 0.0005\\136 0.001\\138 0.0007\\140 0.0008\\142 0.0005\\144 0.001\\146 0.0008\\148 0.0012\\150 0.0015\\152 0.001\\154 0.003\\156 0.0045\\158 0.002\\160 0.001\\162 0.0012\\164 0.0005\\166 0.0003\\168 0.0015\\170 0.001\\172 0.0015\\174 0.0015\\176 0.001\\178 0.0015\\180 0.002\\182 0.003\\184 0.005\\186 0.0025\\188 0.0015\\190 0.003\\192 0.0045\\194 0.005\\196 0.004\\198 0.0055\\200 0.005\\202 0.006\\204 0.004\\206 0.0055\\208 0.0075\\210 0.008\\212 0.0075\\214 0.0045\\216 0.0055\\218 0.005\\220 0.011\\222 0.0075\\224 0.009\\226 0.0125\\228 0.010\\230 0.009\\232 0.0105\\234 0.0085\\236 0.012\\238 0.009\\239 0.0115\\240 0.001\\241 0\\320 0\\}\Pf
\pgfplotstableread[row sep=\\]{x y\\0 0.013\\1.5 0.024\\3 0.017\\5 0.012\\6 0.008\\8 0.017\\10 0.012\\12 0.014\\14 0.009\\16 0.011\\18 0.007\\20 0.008\\22 0.005\\24 0.008\\26 0.0045\\28 0.007\\30 0.009\\32 0.006\\34 0.007\\36 0.006\\38 0.006\\40 0.0045\\42 0.005\\44 0.0065\\46 0.009\\48 0.005\\50 0.0045\\52 0.006\\54 0.008\\56 0.004\\58 0.006\\60 0.005\\62 0.0035\\64 0.006\\66 0.0045\\68 0.004\\70 0.005\\72 0.003\\74 0.0025\\76 0.003\\78 0.002\\80 0.005\\82 0.0035\\84 0.009\\86 0.007\\88 0.010\\90 0.0065\\92 0.011\\94 0.006\\96 0.008\\98 0.004\\100 0.0085\\102 0.012\\104 0.0075\\106 0.010\\108 0.007\\110 0.0085\\112 0.005\\114 0.0065\\116 0.004\\118 0.0055\\120 0.003\\122 0.004\\124 0.0055\\126 0.004\\128 0.006\\130 0.004\\132 0.005\\134 0.0025\\136 0.006\\138 0.004\\140 0.0115\\142 0.0065\\144 0.005\\146 0.008\\148 0.006\\150 0.008\\152 0.005\\154 0.003\\155 0\\320 0\\}\Pg

\pgfplotsset{
  panel/.style={anchor=origin,
    axis line style={draw=none},
    major tick length=0pt, minor tick length=0pt,
    grid=both, minor y tick num=1,
    major grid style={draw=black!9, line width=1.1pt},
    minor grid style={draw=black!6, line width=0.6pt},
    tick label style={font=\fontsize{9.3}{10}\selectfont, text=black!70},
    /pgf/number format/assume math mode=true,
    scaled y ticks=false, scaled x ticks=false,
    yticklabel style={xshift=-1.5pt},
    ylabel style={font=\fontsize{11}{12}\selectfont, inner sep=1pt},
    xlabel style={font=\fontsize{11}{12}\selectfont, inner sep=1pt},
    xticklabel style={/pgf/number format/1000 sep={}}},
  sorg/.style={panel, x=3.95pt, xmin=-4.26, xmax=89.5, xtick={0,20,40,60,80}, minor xtick={10,30,50,70}, xticklabel style={yshift=-4.3pt}},
  pig/.style={panel, x=6.11pt, xmin=-2.7, xmax=56.9, xtick={0,20,40}, minor xtick={10,30,50}, xticklabel style={yshift=-1.3pt}},
  pm/.style={panel, x=1.0367pt, xmin=-16, xmax=336, xtick={0,100,200,300}, minor xtick={50,150,250}, xticklabel style={yshift=-3.3pt}},
  p1/.style={yticklabel style={/pgf/number format/fixed,/pgf/number format/fixed zerofill,/pgf/number format/precision=1}},
  p2/.style={yticklabel style={/pgf/number format/fixed,/pgf/number format/fixed zerofill,/pgf/number format/precision=2}},
  p3/.style={yticklabel style={/pgf/number format/fixed,/pgf/number format/fixed zerofill,/pgf/number format/precision=3}},
}
\newcommand\dens[2]{\addplot[draw=none,fill=#2] table {#1} \closedcycle;
  \addplot[black,line width=1.3pt,line join=round] table {#1};}

\newsavebox\capbox
\newcommand\fitline[2]{\sbox\capbox{#2}\pgfmathsetmacro\capsc{#1/\the\wd\capbox}\scalebox{\capsc}[1]{\usebox\capbox}}

\begin{document}
\begin{tikzpicture}
\path[use as bounding box, fill=white] (0pt,0pt) rectangle (1358pt,-974pt);
\draw[black!25, line width=0.8pt] (10pt,-10pt) rectangle (1348pt,-968pt);

\node[anchor=base, font=\titlefont\fontsize{26}{28}\selectfont] at (252pt,-44pt) {Sorghum};
\node[anchor=base, font=\titlefont\fontsize{26}{28}\selectfont] at (705pt,-44pt) {Pigeonpea};
\node[anchor=base, font=\titlefont\fontsize{26}{28}\selectfont] at (1137pt,-48pt) {Pearl millet};

% Sorghum
\begin{axis}[sorg, at={(95pt,-103.3pt)}, y=1300pt, ymin=-0.0017, ymax=0.0352, ytick={0,0.01,0.02,0.03}, p2, ylabel={S--Chr 1}]
\dens{\Sa}{cSa}
\end{axis}
\begin{axis}[sorg, at={(95pt,-185.7pt)}, y=925pt, ymin=-0.0024, ymax=0.0494, ytick={0,0.01,0.02,0.03,0.04}, p2, ylabel={S--Chr 2}]
\dens{\Sb}{cSb}
\end{axis}
\begin{axis}[sorg, at={(95pt,-268.3pt)}, y=983pt, ymin=-0.002, ymax=0.043, ytick={0,0.01,0.02,0.03,0.04}, p2, ylabel={S--Chr 3}]
\dens{\Sc}{cSc}
\end{axis}
\begin{axis}[sorg, at={(95pt,-350.3pt)}, y=677pt, ymin=-0.003, ymax=0.065, ytick={0,0.02,0.04,0.06}, p2, ylabel={S--Chr 4}]
\dens{\Sd}{cSd}
\end{axis}
\begin{axis}[sorg, at={(95pt,-433pt)}, y=600pt, ymin=-0.0037, ymax=0.0767, ytick={0,0.02,0.04,0.06}, p2, ylabel={S--Chr 5}]
\dens{\Se}{cSe}
\end{axis}
\begin{axis}[sorg, at={(95pt,-515.3pt)}, y=567pt, ymin=-0.0038, ymax=0.079, ytick={0,0.02,0.04,0.06}, p2, ylabel={S--Chr 6}]
\dens{\Sf}{cSf}
\end{axis}
\begin{axis}[sorg, at={(95pt,-597.3pt)}, y=710pt, ymin=-0.003, ymax=0.064, ytick={0,0.02,0.04,0.06}, p2, ylabel={S--Chr 7}]
\dens{\Sg}{cSg}
\end{axis}
\begin{axis}[sorg, x=3.9pt, at={(99.3pt,-680pt)}, y=447pt, ymin=-0.005, ymax=0.102, ytick={0,0.025,0.05,0.075,0.1}, p3, ylabel={S--Chr 8}]
\dens{\Sh}{cSh}
\end{axis}
\begin{axis}[sorg, x=3.9pt, at={(99.3pt,-762pt)}, y=449pt, ymin=-0.0047, ymax=0.098, ytick={0,0.025,0.05,0.075}, p3, ylabel={S--Chr 9}]
\dens{\Si}{cSi}
\end{axis}
\begin{axis}[sorg, at={(95pt,-831.3pt)}, y=540pt, ymin=-0.0027, ymax=0.0557, ytick={0,0.02,0.04}, p2, ylabel={S--Chr 10}, xlabel={MB}]
\dens{\Sj}{cSj}
\end{axis}

% Pigeonpea
\begin{axis}[pig, at={(539.3pt,-96pt)}, y=235pt, ymin=-0.009, ymax=0.184, ytick={0,0.05,0.1,0.15}, p2, ylabel={C--Chr1}]
\dens{\Ca}{cCa}
\end{axis}
\begin{axis}[pig, at={(539.3pt,-170.7pt)}, y=542pt, ymin=-0.004, ymax=0.083, ytick={0,0.02,0.04,0.06,0.08}, p2, ylabel={C--Chr2}]
\dens{\Cb}{cCb}
\end{axis}
\begin{axis}[pig, x=6.025pt, at={(544pt,-245.7pt)}, y=440pt, ymin=-0.005, ymax=0.102, ytick={0,0.025,0.05,0.075,0.1}, p3, ylabel={C--Chr3}]
\dens{\Cc}{cCc}
\end{axis}
\begin{axis}[pig, at={(539.3pt,-320.3pt)}, y=206.5pt, ymin=-0.01, ymax=0.215, ytick={0,0.05,0.1,0.15,0.2}, p2, ylabel={C--Chr4}]
\dens{\Cd}{cCd}
\end{axis}
\begin{axis}[pig, at={(539.3pt,-395pt)}, y=48pt, ymin=-0.043, ymax=0.9, ytick={0,0.25,0.5,0.75}, p2, ylabel={C--Chr5}]
\dens{\Ce}{cCe}
\end{axis}
\begin{axis}[pig, at={(539.3pt,-470.3pt)}, y=333pt, ymin=-0.006, ymax=0.131, ytick={0,0.05,0.1}, p2, ylabel={C--Chr6}]
\dens{\Cf}{cCf}
\end{axis}
\begin{axis}[pig, at={(539.3pt,-545pt)}, y=262pt, ymin=-0.008, ymax=0.168, ytick={0,0.05,0.1,0.15}, p2, ylabel={C--Chr7}]
\dens{\Cg}{cCg}
\end{axis}
\begin{axis}[pig, at={(539.3pt,-620.3pt)}, y=344pt, ymin=-0.006, ymax=0.129, ytick={0,0.04,0.08,0.12}, p2, ylabel={C--Chr8}]
\dens{\Ch}{cCh}
\end{axis}
\begin{axis}[pig, x=6.2pt, at={(534.3pt,-695.3pt)}, y=107.5pt, ymin=-0.02, ymax=0.43, ytick={0,0.1,0.2,0.3,0.4}, p1, ylabel={C--Chr9}]
\dens{\Ci}{cCi}
\end{axis}
\begin{axis}[pig, at={(539.3pt,-770pt)}, y=282pt, ymin=-0.008, ymax=0.163, ytick={0,0.05,0.1,0.15}, p2, ylabel={C--Chr10}]
\dens{\Cj}{cCj}
\end{axis}
\begin{axis}[pig, at={(539.3pt,-831.3pt)}, y=450pt, ymin=-0.0034, ymax=0.071, ytick={0,0.02,0.04,0.06}, p2, ylabel={C--Chr11}, xlabel={MB}]
\dens{\Ck}{cCk}
\end{axis}

% Pearl millet
\begin{axis}[pm, at={(975pt,-108.3pt)}, y=2707pt, ymin=-0.0008, ymax=0.0166, ytick={0,0.005,0.01,0.015}, p3, ylabel={PM--Chr 1}]
\dens{\Pa}{cPa}
\end{axis}
\begin{axis}[pm, at={(975pt,-206.7pt)}, y=2800pt, ymin=-0.00076, ymax=0.016, ytick={0,0.005,0.01,0.015}, p3, ylabel={PM--Chr 2}]
\dens{\Pb}{cPb}
\end{axis}
\begin{axis}[pm, at={(975pt,-306pt)}, y=2800pt, ymin=-0.00077, ymax=0.0161, ytick={0,0.005,0.01,0.015}, p3, ylabel={PM--Chr 3}]
\dens{\Pc}{cPc}
\end{axis}
\begin{axis}[pm, at={(975pt,-404.7pt)}, y=2560pt, ymin=-0.00085, ymax=0.0179, ytick={0,0.005,0.01,0.015}, p3, ylabel={PM--Chr 4}]
\dens{\Pd}{cPd}
\end{axis}
\begin{axis}[pm, at={(975pt,-503.7pt)}, y=1870pt, ymin=-0.00115, ymax=0.0242, ytick={0,0.005,0.01,0.015,0.02}, p3, ylabel={PM--Chr 5}]
\dens{\Pe}{cPe}
\end{axis}
\begin{axis}[pm, at={(975pt,-602pt)}, y=2580pt, ymin=-0.0008, ymax=0.0171, ytick={0,0.005,0.01,0.015}, p3, ylabel={PM--Chr 6}]
\dens{\Pf}{cPf}
\end{axis}
\begin{axis}[pm, at={(975pt,-687.7pt)}, y=1216pt, ymin=-0.0012, ymax=0.0252, ytick={0,0.005,0.01,0.015,0.02,0.025}, p3, ylabel={PM--Chr7}, xlabel={MB}]
\dens{\Pg}{cPg}
\end{axis}

% Caption
\node[anchor=base west, inner sep=0pt, font=\fontsize{17.5}{20}\selectfont, text=black!88] at (22pt,-911pt)
  {\fitline{1253}{\textbf{FIGURE 3 |} SNP densities over chromosomes of sorghum (S-Chr 1–10, the letter “S” represents sorghum), pigeonpea (C-Chr 1–11, the letter “C” represents}};
\node[anchor=base west, inner sep=0pt, font=\fontsize{17.5}{20}\selectfont, text=black!88] at (22pt,-935.5pt)
  {\fitline{1293}{\textit{Cajanus}), and pearl millet (PM-Chr 1–7, the letter “PM” represents pearl millet) after filtering for quality parameters. The x-axis represents SNP positions along each}};
\node[anchor=base west, inner sep=0pt, font=\fontsize{17.5}{20}\selectfont, text=black!88] at (22pt,-960pt)
  {\fitline{635}{chromosome (MB) and the y-axis represents SNP densities over chromosomes.}};
\end{tikzpicture}
\end{document}
